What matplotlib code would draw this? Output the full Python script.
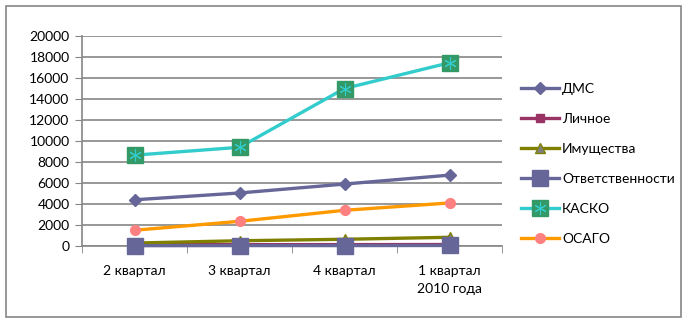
import matplotlib
matplotlib.use("Agg")
import matplotlib.pyplot as plt
from matplotlib.legend_handler import HandlerTuple
from matplotlib.patches import Rectangle

plt.rcParams['font.family'] = ['Lato', 'DejaVu Sans']

# Квартальные сборы по видам страхования
quarters = ['2 квартал', '3 квартал', '4 квартал', '1 квартал\n2010 года']
dms = [4400, 5050, 5900, 6750]
lichnoe = [120, 130, 130, 140]
imush = [280, 500, 640, 830]
otvetst = [30, 40, 40, 50]
kasko = [8650, 9400, 15000, 17450]
osago = [1500, 2350, 3400, 4100]

fig = plt.figure(figsize=(6.89, 3.24), dpi=100)
ax = fig.add_axes([82 / 689, 78 / 324, 420 / 689, 210 / 324])

# рамка вокруг всей диаграммы
fig.patches.append(Rectangle((6 / 689, 7 / 324), 675 / 689, 311 / 324,
                             transform=fig.transFigure, fill=False,
                             edgecolor='#868686', linewidth=1.2))

x = list(range(len(quarters)))
lw = 2.4

l_dms, = ax.plot(x, dms, color='#666699', lw=lw, marker='D', ms=6.5,
                 mfc='#666699', mec='#666699', label='ДМС', zorder=4)
l_lich, = ax.plot(x, lichnoe, color='#993366', lw=lw, marker='s', ms=6,
                  mfc='#993366', mec='#993366', label='Личное', zorder=3)
l_imu, = ax.plot(x, imush, color='#808000', lw=lw, marker='^', ms=6.5,
                 mfc='#808080', mec='#808000', label='Имущества', zorder=3)
l_otv, = ax.plot(x, otvetst, color='#666699', lw=lw, marker='s', ms=11.5,
                 mfc='#666699', mec='#666699', label='Ответственности',
                 zorder=5, clip_on=False)
l_kas, = ax.plot(x, kasko, color='#33CCCC', lw=lw, marker='s', ms=11.5,
                 mfc='#339966', mec='#339966', label='КАСКО', zorder=4)
l_kas_star, = ax.plot(x, kasko, ls='none', marker=(6, 2, 0), ms=9,
                      mec='#33CCCC', mew=0.8, zorder=6)
l_osa, = ax.plot(x, osago, color='#FF9900', lw=lw, marker='o', ms=7,
                 mfc='#FF8080', mec='#FF8080', label='ОСАГО', zorder=4)

ax.set_xlim(-0.5, len(quarters) - 0.5)
ax.set_ylim(0, 20000)
ax.set_yticks(range(0, 20001, 2000))
ax.set_xticks(x)
ax.set_xticklabels(quarters, fontsize=10, linespacing=1.55)
ax.set_xticks([i - 0.5 for i in range(len(quarters) + 1)], minor=True)
ax.tick_params(axis='x', which='major', length=0, pad=14)
ax.tick_params(axis='x', which='minor', length=5, color='#868686', direction='out')
ax.tick_params(axis='y', length=5, color='#868686', direction='out',
               labelsize=10, pad=4)

ax.grid(axis='y', color='#868686', lw=1.2)
ax.set_axisbelow(True)
for side in ['top', 'right']:
    ax.spines[side].set_visible(False)
for side in ['left', 'bottom']:
    ax.spines[side].set_color('#868686')
    ax.spines[side].set_linewidth(1.2)

handles = [l_dms, l_lich, l_imu, l_otv, (l_kas, l_kas_star), l_osa]
labels = ['ДМС', 'Личное', 'Имущества', 'Ответственности', 'КАСКО', 'ОСАГО']
fig.legend(handles, labels, loc='upper left', bbox_to_anchor=(515 / 689, 1 - 77 / 324),
           frameon=False, fontsize=10, labelspacing=1.3, handlelength=2.8,
           handletextpad=0.2, borderaxespad=0,
           handler_map={tuple: HandlerTuple(ndivide=1, pad=0)})

fig.savefig('out.png', dpi=100)
